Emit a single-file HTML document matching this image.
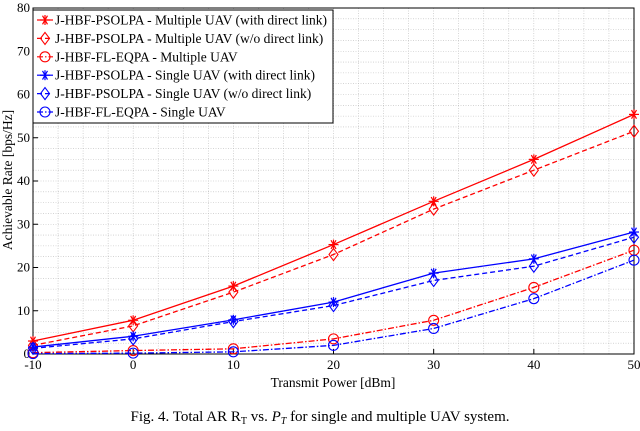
<!DOCTYPE html>
<html><head><meta charset="utf-8"><style>
body{margin:0;background:#fff;width:640px;height:426px;overflow:hidden;font-family:"Liberation Serif",serif}
</style></head><body>
<svg id="chart" width="640" height="426" xmlns="http://www.w3.org/2000/svg" font-family="Liberation Serif, serif">
<g id="grid"></g>
<g id="axes"></g>
<g id="series"></g>
<g id="legend"></g>
<text x="333" y="387" font-size="13.5" text-anchor="middle">Transmit Power [dBm]</text>
<text transform="translate(12,180) rotate(-90)" font-size="13.5" text-anchor="middle">Achievable Rate [bps/Hz]</text>
<text x="320" y="421" font-size="15" text-anchor="middle">Fig. 4. Total AR R<tspan font-size="10" dy="3">T</tspan><tspan dy="-3"> vs. </tspan><tspan font-style="italic">P</tspan><tspan font-size="10" dy="3" font-style="italic">T</tspan><tspan dy="-3"> for single and multiple UAV system.</tspan></text>
</svg>
<script>
const xCats=[-10,0,10,20,30,40,50];
const xTicks=[-10,0,10,20,30,40,50];
const yTicks=[0,10,20,30,40,50,60,70,80];
const redStar=[3,7.8,15.7,25.3,35.3,45,55.4];
const redDiamond=[2,6.5,14.3,23,33.5,42.5,51.5];
const redCircle=[0.3,0.8,1.2,3.5,7.8,15.4,24];
const blueStar=[1.6,4.1,7.9,12,18.7,22,28.2];
const blueDiamond=[1.3,3.5,7.5,11.2,17,20.3,27];
const blueCircle=[0.1,0.2,0.5,2,5.9,12.8,21.7];
const labels=["J-HBF-PSOLPA - Multiple UAV (with direct link)","J-HBF-PSOLPA - Multiple UAV (w/o direct link)","J-HBF-FL-EQPA - Multiple UAV","J-HBF-PSOLPA - Single UAV (with direct link)","J-HBF-PSOLPA - Single UAV (w/o direct link)","J-HBF-FL-EQPA - Single UAV"];
const NS="http://www.w3.org/2000/svg";
const L=33,R=634,T=8,B=354;
const xs=v=>L+(v+10)/60*(R-L);
const ys=v=>B-v/80*(B-T);
function mk(tag,attrs,parent){const e=document.createElementNS(NS,tag);for(const k in attrs)e.setAttribute(k,attrs[k]);parent.appendChild(e);return e;}
const grid=document.getElementById('grid'),axes=document.getElementById('axes'),ser=document.getElementById('series'),leg=document.getElementById('legend');
for(let v=-10;v<=50;v+=2.5){const g=mk('line',{x1:xs(v),x2:xs(v),y1:T,y2:B,stroke:'#bbb','stroke-width':0.6,'stroke-dasharray':'1,1.5'},grid);}
for(let v=0;v<=80;v+=2.5){const g=mk('line',{x1:L,x2:R,y1:ys(v),y2:ys(v),stroke:'#bbb','stroke-width':0.6,'stroke-dasharray':'1,1.5'},grid);}
const box=mk('rect',{x:L,y:T,width:R-L,height:B-T,fill:'none',stroke:'#000','stroke-width':1},axes);

xTicks.forEach(v=>{const t=mk('text',{x:xs(v),y:B+15,'font-size':13,'text-anchor':'middle'},axes);t.textContent=v;

mk('line',{x1:xs(v),x2:xs(v),y1:B,y2:B-5,stroke:'#000'},axes);});
yTicks.forEach(v=>{const t=mk('text',{x:L-3,y:ys(v)+4,'font-size':13,'text-anchor':'end'},axes);t.textContent=v;

mk('line',{x1:L,x2:L+5,y1:ys(v),y2:ys(v),stroke:'#000'},axes);});
function marker(type,x,y,c,p){
 if(type==='star'){for(const a of [0,60,120]){const r=a*Math.PI/180;mk('line',{x1:x-5*Math.cos(r),y1:y-5*Math.sin(r),x2:x+5*Math.cos(r),y2:y+5*Math.sin(r),stroke:c,'stroke-width':1.2},p);}mk('line',{x1:x,y1:y-5,x2:x,y2:y+5,stroke:c,'stroke-width':1.2},p);}
 else if(type==='diamond')mk('polygon',{points:`${x},${y-6} ${x+4.5},${y} ${x},${y+6} ${x-4.5},${y}`,fill:'none',stroke:c,'stroke-width':1.1},p);
 else mk('circle',{cx:x,cy:y,r:5,fill:'none',stroke:c,'stroke-width':1.1},p);}
const S=[[redStar,'red','star',''],[redDiamond,'red','diamond','5,3'],[redCircle,'red','circle','6,2,1.5,2'],[blueStar,'blue','star',''],[blueDiamond,'blue','diamond','5,3'],[blueCircle,'blue','circle','6,2,1.5,2']];
const names=['red-star-series','red-diamond-series','red-circle-series','blue-star-series','blue-diamond-series','blue-circle-series'];
S.forEach((s,i)=>{const g=mk('g',{},ser);


mk('polyline',{points:s[0].map((v,j)=>xs(xCats[j])+','+ys(v)).join(' '),fill:'none',stroke:s[1],'stroke-width':1.3,'stroke-dasharray':s[3]||'none'},g);
s[0].forEach((v,j)=>marker(s[2],xs(xCats[j]),ys(v),s[1],g));});
const lb=mk('rect',{x:33,y:10,width:300,height:113,fill:'#fff',stroke:'#000','stroke-width':1},leg);


labels.forEach((t,i)=>{const y=20+i*18.4;const g=mk('g',{},leg);


mk('line',{x1:37,x2:53,y1:y,y2:y,stroke:S[i][1],'stroke-width':1.2,'stroke-dasharray':S[i][3]||'none'},g);
marker(S[i][2],45,y,S[i][1],g);
const tx=mk('text',{x:55,y:y+4.5,'font-size':13.5},g);tx.textContent=t;});
</script>
</body></html>
